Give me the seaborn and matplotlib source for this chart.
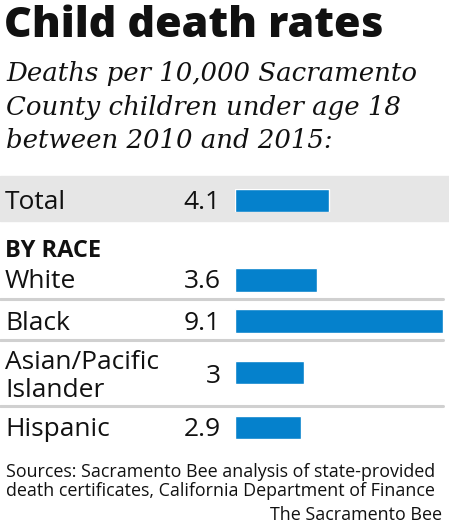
import matplotlib
matplotlib.use('Agg')
import matplotlib.pyplot as plt
from matplotlib.patches import Rectangle
from matplotlib.lines import Line2D
import seaborn as sns

# data
groups = ['Total', 'White', 'Black', 'Asian/Pacific\nIslander', 'Hispanic']
rates = [4.1, 3.6, 9.1, 3.0, 2.9]
rate_labels = ['4.1', '3.6', '9.1', '3', '2.9']

title = 'Child death rates'
subtitle = ['Deaths per 10,000 Sacramento', 'County children under age 18',
            'between 2010 and 2015:']
section = 'BY RACE'
sources = ['Sources: Sacramento Bee analysis of state-provided',
           'death certificates, California Department of Finance']
credit = 'The Sacramento Bee'

W, H = 449, 528
BLUE = '#0581cc'
INK = '#111111'

sns.set_theme(style='white')
plt.rcParams['font.family'] = ['Open Sans', 'DejaVu Sans']

fig = plt.figure(figsize=(W / 100, H / 100), dpi=100)


def fy(py):
  return 1 - py / H


def fx(px):
  return px / W


# grey band behind total row
fig.patches.append(Rectangle((0, fy(221)), 1, (221 - 176) / H, transform=fig.transFigure,
                             color='#e6e6e6', zorder=-5))

# separators
for py in [299, 340, 406]:
  fig.add_artist(Line2D([0, fx(443)], [fy(py), fy(py)], transform=fig.transFigure,
                        color='#d0d0d0', linewidth=2.2))

# rows: bar top/bottom in pixels, label baseline, value baseline
row_box = [(189, 212), (268, 292), (309, 333), (361, 384), (416, 439)]
label_base = [209, 288, 330, 369, 436]
value_base = [209, 288, 330, 383, 436]

bar_left, bar_right = 235, 443
xmax = max(rates)
for name, val, lab, (top, bot), lb, vb in zip(groups, rates, rate_labels, row_box,
                                             label_base, value_base):
  ax = fig.add_axes([fx(bar_left), fy(bot), fx(bar_right - bar_left), (bot - top) / H])
  ax.set_facecolor('none')
  sns.barplot(x=[val], y=[name], color=BLUE, width=1, saturation=1, ax=ax)
  ax.set_xlim(0, xmax)
  ax.set_ylim(0.5, -0.5)
  ax.axis('off')
  fig.text(fx(221), fy(vb), lab, ha='right', va='baseline', fontsize=19, color=INK)
  for i, line in enumerate(name.split('\n')):
    fig.text(fx(5), fy(lb + i * 28), line, ha='left', va='baseline', fontsize=19, color=INK)

fig.text(fx(4), fy(37), title, ha='left', va='baseline', fontsize=31,
         fontweight='heavy', color=INK)
for i, line in enumerate(subtitle):
  fig.text(fx(6), fy(81 + i * 33.5), line, ha='left', va='baseline', fontsize=18.7,
           style='italic', family=['DejaVu Serif'], color=INK)
fig.text(fx(5), fy(257), section, ha='left', va='baseline', fontsize=17,
         fontweight='bold', color=INK)
for i, line in enumerate(sources):
  fig.text(fx(6), fy(477 + i * 19), line, ha='left', va='baseline', fontsize=12.9,
           color=INK)
fig.text(fx(442), fy(520), credit, ha='right', va='baseline', fontsize=12.9, color=INK)

fig.savefig('out.png', dpi=100, facecolor='white')
